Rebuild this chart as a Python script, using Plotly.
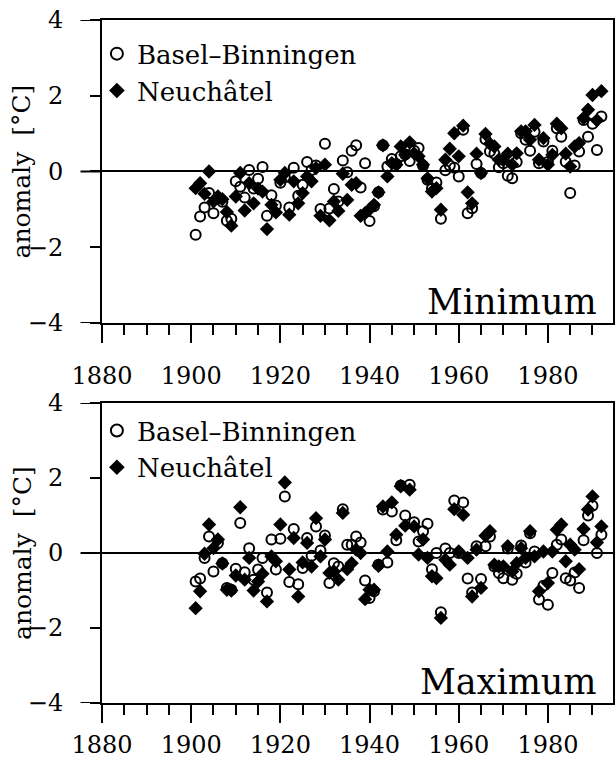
import plotly.graph_objects as go

years = list(range(1901, 1993))

basel_min = [-1.67, -1.19, -0.95, -0.57, -1.10, -0.72, -0.80, -1.30, -1.25, -0.26,
             -0.40, -0.69, 0.04, -0.45, -0.19, 0.12, -1.17, -0.63, -0.90, -0.30,
             -0.15, -0.95, 0.10, -0.64, -0.35, 0.25, 0.04, 0.16, -0.99, 0.73,
             -0.98, -0.46, -0.79, 0.29, -0.02, 0.55, 0.69, -0.42, 0.22, -1.31,
             -0.92, -0.55, 0.69, 0.13, 0.33, 0.20, 0.40, 0.45, 0.28, 0.55,
             0.62, 0.15, -0.22, -0.45, -0.29, -1.25, 0.03, 0.16, 0.10, -0.13,
             1.10, -1.10, -0.97, 0.20, -0.04, 0.85, 0.53, 0.47, 0.11, 0.22,
             -0.11, -0.18, 0.25, 1.01, 0.84, 0.55, 1.05, 0.22, 0.79, 0.25,
             0.55, 1.14, 0.92, 0.26, -0.57, 0.16, 0.53, 1.36, 0.92, 1.26,
             0.57, 1.45]

neuch_min = [-0.44, -0.31, -0.59, 0.00, -0.79, -0.66, -0.73, -1.07, -1.43, -0.66,
             -0.04, -1.03, -0.31, -0.84, -0.45, -0.53, -1.52, -0.88, -1.08, -0.22,
             -0.04, -1.14, -0.26, -0.84, -0.57, -0.13, -0.26, 0.09, -1.17, 0.18,
             -1.29, -0.79, -1.04, -0.06, -0.75, -0.35, -0.31, -1.17, -1.10, -1.00,
             -0.88, -0.55, 0.69, -0.13, 0.22, 0.18, 0.66, 0.44, 0.77, 0.48,
             0.40, 0.18, -0.18, -0.53, -0.44, -1.01, 0.31, 0.60, 1.01, 0.40,
             1.21, -0.55, -0.84, 0.47, -0.04, 0.99, 0.73, 0.66, 0.31, 0.30,
             0.47, 0.18, 0.48, 1.06, 1.06, 0.84, 1.23, 0.31, 0.88, 0.18,
             0.44, 1.26, 1.14, 0.47, 0.13, 0.66, 0.75, 1.41, 1.63, 2.02,
             1.35, 2.12]

basel_max = [-0.76, -0.68, -0.13, 0.44, -0.49, 0.27, -0.27, -0.93, -0.98, -0.42,
             0.80, -0.51, 0.13, -0.71, -0.44, -0.13, -1.05, 0.36, -0.44, 0.38,
             1.51, -0.77, 0.64, -0.83, -0.40, 0.40, -0.07, 0.71, 0.07, 0.47,
             -0.80, -0.27, -0.36, 1.17, 0.22, 0.22, 0.44, 0.28, -0.73, -1.20,
             -1.02, -0.31, 1.16, -0.25, 1.11, 0.34, 1.80, 1.00, 1.82, 0.82,
             0.31, 0.58, 0.78, -0.43, 0.00, -1.58, 0.12, 0.00, 1.40, 0.00,
             1.35, -0.68, -1.05, 0.18, -0.69, 0.18, 0.44, -0.36, -0.53, -0.67,
             0.12, -0.71, -0.55, 0.20, -0.25, 0.53, 0.04, -1.24, -0.87, -1.38,
             -0.53, 0.22, 0.36, -0.67, -0.73, -0.52, -0.93, 0.34, 1.00, 1.26,
             0.00, 0.49]

neuch_max = [-1.47, -1.02, -0.02, 0.76, 0.13, 0.36, -0.28, -0.98, -1.00, -0.60,
             1.22, -0.71, -0.13, -1.00, -0.76, -0.55, -1.29, -0.09, -0.22, 0.76,
             1.88, -0.44, 0.40, -1.16, -0.25, 0.27, -0.36, 0.93, -0.09, 0.36,
             -0.53, -0.49, -0.71, 1.07, -0.43, -0.27, 0.09, 0.00, -1.23, -0.98,
             -0.98, -0.34, 1.24, 0.04, 1.35, 0.49, 1.78, 0.73, 1.69, 0.71,
             -0.04, 0.36, -0.13, -0.62, -0.67, -1.73, -0.18, -0.31, 1.17, 0.04,
             1.02, -0.13, -1.16, 0.09, -0.93, 0.46, 0.58, -0.31, -0.36, -0.36,
             0.18, -0.49, -0.27, 0.13, -0.13, 0.58, -0.09, -1.02, 0.04, -0.80,
             0.04, 0.62, 0.76, -0.22, 0.22, 0.09, -0.43, 0.64, 1.16, 1.51,
             0.28, 0.71]

x_ticks = [1880, 1900, 1920, 1940, 1960, 1980]
y_ticks = [-4, -2, 0, 2, 4]
panel_labels = ["Minimum", "Maximum"]
series_names = ["Basel\u2013Binningen", "Neuch\u00e2tel"]
y_title = "anomaly  [\u00b0C]"

FONT = "DejaVu Serif"

fig = go.Figure()

panels = [("x", "y", "legend", basel_min, neuch_min),
          ("x2", "y2", "legend2", basel_max, neuch_max)]

for xa, ya, lg, b, n in panels:
    fig.add_trace(go.Scatter(
        x=years, y=b, mode="markers", name=series_names[0], xaxis=xa, yaxis=ya,
        legend=lg,
        marker=dict(symbol="circle-open", size=10, color="black", line=dict(width=2, color="black")),
    ))
    fig.add_trace(go.Scatter(
        x=years, y=n, mode="markers", name=series_names[1], xaxis=xa, yaxis=ya,
        legend=lg,
        marker=dict(symbol="diamond", size=11, color="black", line=dict(width=0)),
    ))

axis_common = dict(showline=True, linecolor="black", linewidth=2, mirror=True,
                   showgrid=False, ticks="outside", tickcolor="black", tickwidth=2,
                   automargin=False, ticklabeloverflow="allow",
                   tickfont=dict(family=FONT, size=24, color="black"))

xaxis_cfg = dict(axis_common, range=[1880, 1994.6], tickvals=x_ticks, ticklen=18,
                 minor=dict(dtick=5, tick0=1880, ticklen=10, ticks="outside",
                            tickcolor="black", tickwidth=2))
yaxis_cfg = dict(axis_common, range=[-4, 4], tickvals=y_ticks, ticklen=10,
                 ticklabelstandoff=22, zeroline=True, zerolinecolor="black",
                 zerolinewidth=2,
                 title=dict(text=" ", standoff=0, font=dict(family=FONT, size=10)))

fig.update_layout(
    width=616, height=760,
    margin=dict(l=102, r=3, t=20, b=57),
    paper_bgcolor="white", plot_bgcolor="white",
    xaxis=dict(xaxis_cfg, domain=[0, 1], anchor="y", ticklabelstandoff=12),
    yaxis=dict(yaxis_cfg, domain=[0.5564, 1], anchor="x"),
    xaxis2=dict(xaxis_cfg, domain=[0, 1], anchor="y2", ticklabelstandoff=1),
    yaxis2=dict(yaxis_cfg, domain=[0, 0.4392], anchor="x2"),
    legend=dict(x=-0.010, y=0.985, xanchor="left", yanchor="top", bgcolor="rgba(0,0,0,0)",
                font=dict(family=FONT, size=26, color="black"), itemsizing="constant",
                tracegroupgap=0),
    legend2=dict(x=-0.010, y=0.4392 - 0.006, xanchor="left", yanchor="top", bgcolor="rgba(0,0,0,0)",
                 font=dict(family=FONT, size=26, color="black"), itemsizing="constant",
                 tracegroupgap=0),
    showlegend=True,
)

for i, (xr, yr) in enumerate([("x domain", "y"), ("x2 domain", "y2")]):
    fig.add_annotation(text=panel_labels[i], xref=xr, yref=yr + " domain",
                       x=0.973, y=-0.005, xanchor="right", yanchor="bottom", showarrow=False,
                       font=dict(family=FONT, size=35, color="black"))
    fig.add_annotation(text=y_title, xref="paper", yref=yr + " domain",
                       x=-0.1566, y=0.5, xanchor="center", yanchor="middle", textangle=-90,
                       showarrow=False, font=dict(family=FONT, size=25, color="black"))
    for v in [-4, 0, 4]:
        fig.add_shape(type="line", xref=xr, yref=yr, x0=-0.042, x1=0, y0=v, y1=v,
                      line=dict(color="black", width=2))

# remove the default page margin so the figure fills the window exactly
fig.write_html("out.html", config={"displayModeBar": False},
               post_script="document.body.style.margin='0';document.body.style.overflow='hidden';")
